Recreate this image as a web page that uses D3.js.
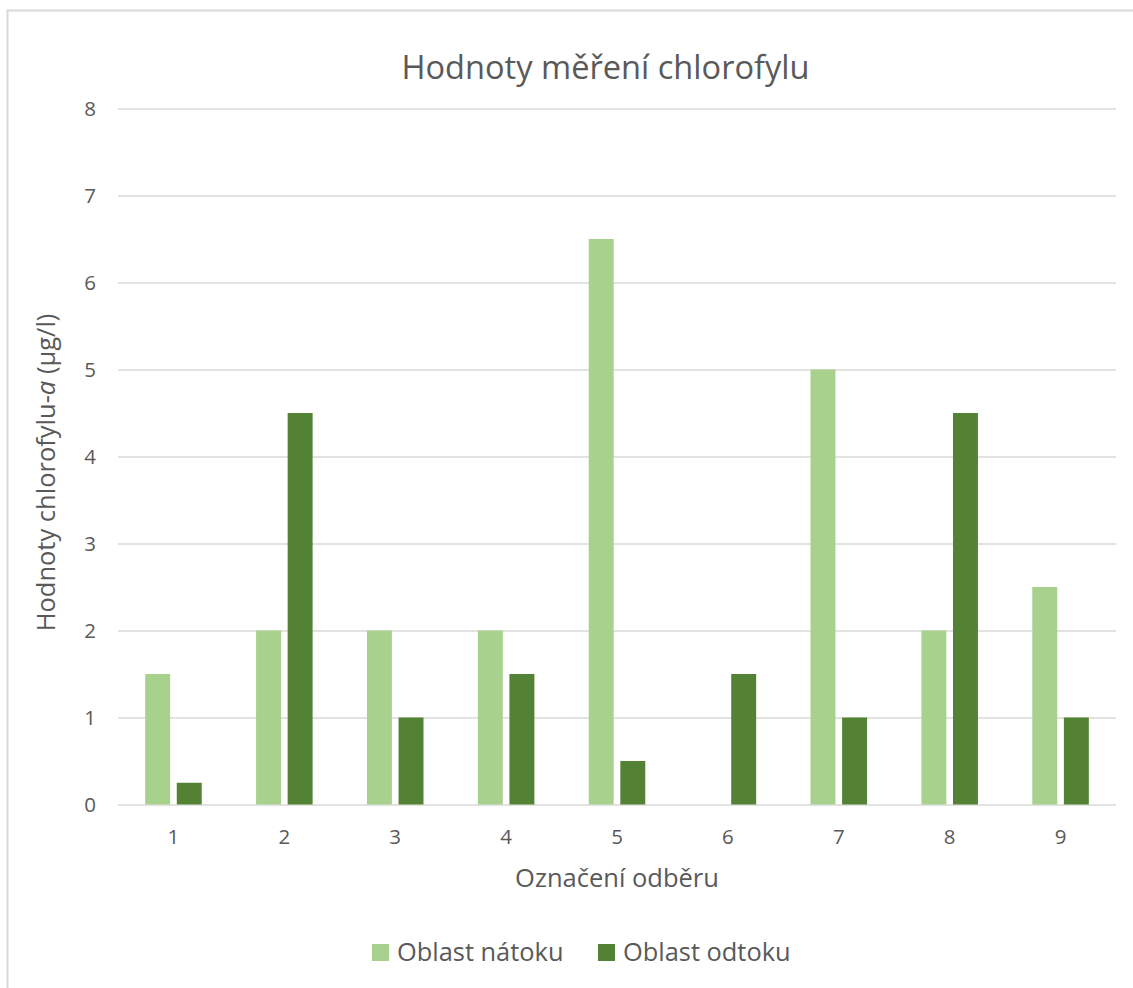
<!DOCTYPE html>
<html>
<head>
<meta charset="utf-8">
<script src="https://cdn.jsdelivr.net/npm/d3@7"></script>
<style>
  html, body { margin: 0; padding: 0; background: #fff; }
  svg { display: block; }
  text { font-family: "Open Sans", sans-serif; fill: #595959; }
</style>
</head>
<body>
<svg id="chart" width="1133" height="988"></svg>
<script>
// Sample labels and chlorophyll-a values (µg/l)
const categories = ["1", "2", "3", "4", "5", "6", "7", "8", "9"];
const seriesNames = ["Oblast nátoku", "Oblast odtoku"];
const inflowValues = [1.5, 2, 2, 2, 6.5, 0, 5, 2, 2.5];
const outflowValues = [0.25, 4.5, 1, 1.5, 0.5, 1.5, 1, 4.5, 1];
const yTicks = [0, 1, 2, 3, 4, 5, 6, 7, 8];
const colors = ["#A9D18E", "#548235"];

const rows = categories.map((c, i) => ({ cat: c, values: [inflowValues[i], outflowValues[i]] }));

const svg = d3.select("#chart");
const W = 1133, H = 988;
const plot = { left: 118, right: 1116, top: 108.5, bottom: 804.5 };
const FONT = "'Open Sans', sans-serif";

// chart frame
svg.append("rect")
  .attr("x", 7.5).attr("y", 10.5)
  .attr("width", W + 10).attr("height", H + 10)
  .attr("fill", "#fff").attr("stroke", "#d9d9d9").attr("stroke-width", 2);

const x0 = d3.scaleBand().domain(categories).range([plot.left, plot.right]).paddingInner(0.49).paddingOuter(0.245);
const x1 = d3.scaleBand().domain([0, 1]).range([0, x0.bandwidth()]).paddingInner(0.21).paddingOuter(0);
const y = d3.scaleLinear().domain([0, 8]).range([plot.bottom, plot.top]);

// horizontal gridlines and value labels
const yAxis = d3.axisLeft(y).tickValues(yTicks).tickSize(-(plot.right - plot.left)).tickPadding(22).tickFormat(d3.format("d"));
const gy = svg.append("g").attr("transform", `translate(${plot.left},0)`).call(yAxis);
gy.select(".domain").remove();
gy.selectAll(".tick line").attr("stroke", "#d9d9d9").attr("stroke-width", 1.5);
gy.selectAll(".tick text").attr("font-size", 20.5).attr("dy", "0.36em")
  .style("fill", "#595959").attr("font-family", FONT);

// bars
const groups = svg.append("g").selectAll("g").data(rows).join("g")
  .attr("transform", d => `translate(${x0(d.cat)},0)`);
groups.selectAll("rect").data(d => d.values.map((v, i) => ({ v, i }))).join("rect")
  .attr("x", d => x1(d.i))
  .attr("width", x1.bandwidth())
  .attr("y", d => y(d.v))
  .attr("height", d => y(0) - y(d.v))
  .attr("fill", d => colors[d.i]);

// category labels
const xAxis = d3.axisBottom(x0).tickSize(0);
const gx = svg.append("g").attr("transform", `translate(0,${plot.bottom})`).call(xAxis);
gx.select(".domain").remove();
gx.selectAll(".tick text").attr("font-size", 20.5).attr("y", 39.5).attr("dy", 0)
  .style("fill", "#595959").attr("font-family", FONT);

// title
svg.append("text")
  .attr("x", 605.5).attr("y", 79)
  .attr("text-anchor", "middle")
  .attr("font-size", 32.6)
  .text("Hodnoty měření chlorofylu");

// axis titles
svg.append("text")
  .attr("x", 617).attr("y", 887)
  .attr("text-anchor", "middle")
  .attr("font-size", 25.5)
  .text("Označení odběru");

const yl = svg.append("text")
  .attr("transform", "translate(55,472.5) rotate(-90)")
  .attr("text-anchor", "middle")
  .attr("font-size", 25.5);
yl.append("tspan").text("Hodnoty chlorofylu-");
yl.append("tspan").attr("font-style", "italic").text("a");
yl.append("tspan").text(" (µg/l)");

// legend
const legendItems = [{ x: 372, name: seriesNames[0], color: colors[0] }, { x: 598, name: seriesNames[1], color: colors[1] }];
const lg = svg.append("g").selectAll("g").data(legendItems).join("g")
  .attr("transform", d => `translate(${d.x},944)`);
lg.append("rect").attr("width", 17).attr("height", 17).attr("fill", d => d.color);
lg.append("text").attr("x", 25).attr("y", 16.7).attr("font-size", 25.4).text(d => d.name);
</script>
</body>
</html>
